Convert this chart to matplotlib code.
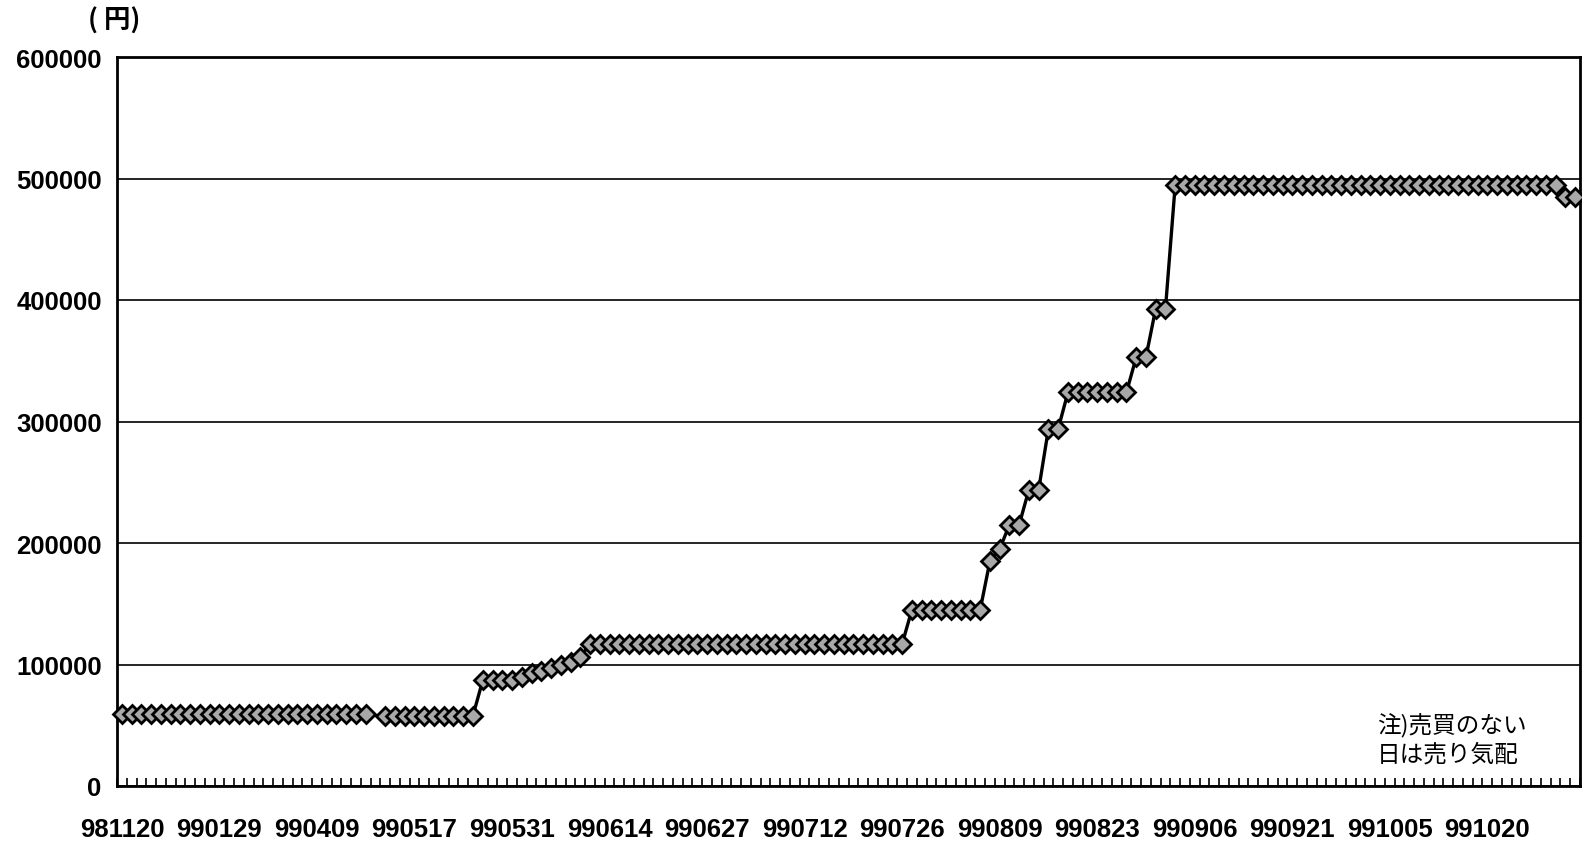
import numpy as np
import matplotlib
matplotlib.use("Agg")
import matplotlib.pyplot as plt

plt.rcParams['font.family'] = ['Liberation Sans', 'Noto Sans CJK JP', 'DejaVu Sans']

nan = np.nan
# daily prices (yen), one value per category; gap = no data
prices = [
    59000, 59000, 59000, 59000, 59000, 59000, 59000, 59000, 59000, 59000,
    59000, 59000, 59000, 59000, 59000, 59000, 59000, 59000, 59000, 59000,
    59000, 59000, 59000, 59000, 59000, 59000, nan, 58000, 58000, 58000,
    58000, 58000, 58000, 58000, 58000, 58000, 58000, 87000, 87000, 87000,
    87000, 90000, 93000, 95000, 97000, 100000, 102000, 106000, 117000, 117000,
    117000, 117000, 117000, 117000, 117000, 117000, 117000, 117000, 117000, 117000,
    117000, 117000, 117000, 117000, 117000, 117000, 117000, 117000, 117000, 117000,
    117000, 117000, 117000, 117000, 117000, 117000, 117000, 117000, 117000, 117000,
    117000, 145000, 145000, 145000, 145000, 145000, 145000, 145000, 145000, 185000,
    195000, 215000, 215000, 244000, 244000, 294000, 294000, 324000, 324000, 324000,
    324000, 324000, 324000, 324000, 353000, 353000, 393000, 393000, 495000, 495000,
    495000, 495000, 495000, 495000, 495000, 495000, 495000, 495000, 495000, 495000,
    495000, 495000, 495000, 495000, 495000, 495000, 495000, 495000, 495000, 495000,
    495000, 495000, 495000, 495000, 495000, 495000, 495000, 495000, 495000, 495000,
    495000, 495000, 495000, 495000, 495000, 495000, 495000, 495000, 485000, 485000,
]
# date labels shown on the category axis (every 10th category)
date_labels = ["981120", "990129", "990409", "990517", "990531", "990614",
               "990627", "990712", "990726", "990809", "990823", "990906",
               "990921", "991005", "991020"]
label_step = 10
y_ticks = [0, 100000, 200000, 300000, 400000, 500000, 600000]
unit_label = "( 円)"
note_text = "注)売買のない\n日は売り気配"

n = len(prices)
x = np.arange(n)

fig = plt.figure(figsize=(15.82, 8.45), dpi=100)
ax = fig.add_axes([117 / 1582, 1 - 787 / 845, (1580 - 117) / 1582, (787 - 58) / 845])

ax.plot(x, prices, color='black', lw=2.4, marker='D', markersize=8.8,
        markerfacecolor='#a8a8a8', markeredgecolor='black', markeredgewidth=2.0,
        zorder=3, clip_on=False)

ax.set_xlim(-0.5, n - 0.5)
ax.set_ylim(0, 600000)
ax.set_yticks(y_ticks)
ax.set_yticklabels([str(v) for v in y_ticks], fontsize=18.5, fontweight='bold')
ax.tick_params(axis='y', length=0, pad=11)
ax.grid(axis='y', color='black', lw=1.2)
ax.set_axisbelow(True)

# tick marks at category boundaries, labels at every 10th category
ax.set_xticks(np.arange(-0.5, n, 1.0))
ax.set_xticklabels([])
ax.tick_params(axis='x', which='major', direction='in', length=6, width=1.2)
lab_pos = [i * label_step for i in range(len(date_labels))]
ax.set_xticks(lab_pos, minor=True)
ax.set_xticklabels(date_labels, minor=True, fontsize=18.5, fontweight='bold')
ax.tick_params(axis='x', which='minor', length=0, pad=22)

for side in ['left', 'bottom', 'top', 'right']:
    ax.spines[side].set_linewidth(2)
    ax.spines[side].set_color('black')

fig.text(88 / 1582, 1 - 21 / 845, unit_label, fontsize=19, fontweight='bold',
         va='center', ha='left', family=['Noto Sans CJK JP', 'DejaVu Sans'])
fig.text(1377 / 1582, 1 - 740 / 845, note_text, fontsize=17, va='center', ha='left',
         linespacing=1.3, family=['Noto Sans CJK JP'])

fig.savefig("out.png", dpi=100)
